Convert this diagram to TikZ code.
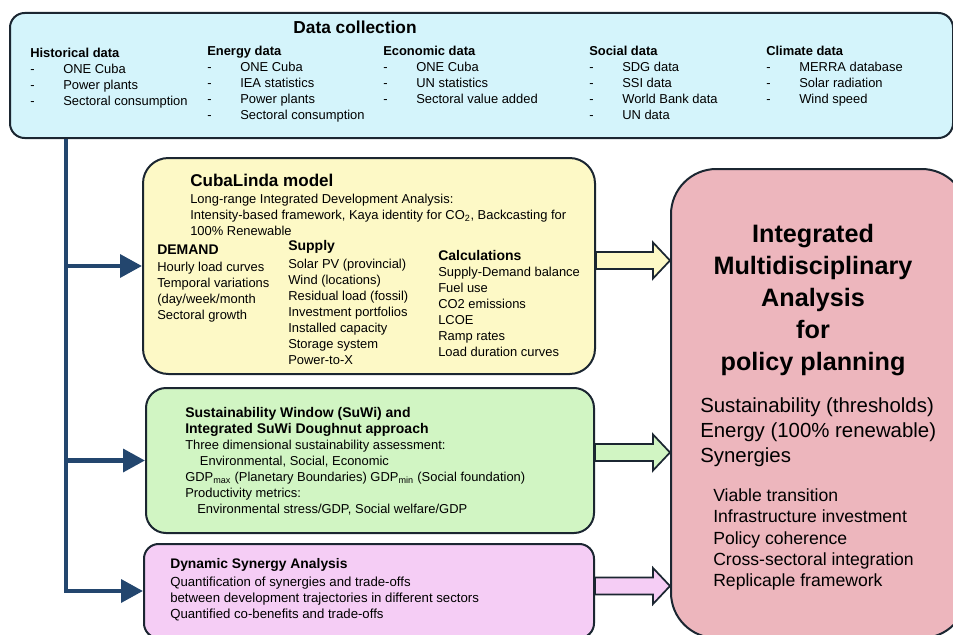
\documentclass[tikz,border=0pt]{standalone}
\usepackage{fontspec}
\setmainfont{Liberation Sans}
\usetikzlibrary{arrows.meta,calc,positioning}
\definecolor{edge}{HTML}{1B2631}
\definecolor{navy}{HTML}{23466E}
\definecolor{datafill}{HTML}{D4F4FB}
\definecolor{cubafill}{HTML}{FDF9C6}
\definecolor{suwifill}{HTML}{D1F5C3}
\definecolor{dynfill}{HTML}{F5CDF5}
\definecolor{resultfill}{HTML}{EDB6BD}
\newcommand\itm{\makebox[24.75pt][l]{-}}
\newcommand\blockarrow[4]{%
\path (#1.east |- 0,#3) coordinate (ba-s) (#2.west |- 0,#3) coordinate (ba-t);
\draw[blockarr, fill=#4] ($(ba-s)+(0,-8.5)$) -- ($(ba-t)+(-17,-8.5)$) -- ($(ba-t)+(-17,-18)$)
  -- (ba-t) -- ($(ba-t)+(-17,18)$) -- ($(ba-t)+(-17,8.5)$) -- ($(ba-s)+(0,8.5)$) -- cycle;}
\begin{document}
\begin{tikzpicture}[x=0.75pt ,y=-0.75pt ,
box/.style ={ rectangle ,draw=edge ,line width=1.5pt ,inner sep=0 ,anchor=north west},
blockarr/.style ={ draw=edge ,line width=1.3pt ,line join=miter},
branch/.style ={ draw=navy ,line width=3.4pt ,-{Triangle[length=16.5pt,width=17pt]}},
txt/.style ={ inner sep=0 ,anchor=north west ,align=left ,font=\fontsize{9.7}{12}\selectfont},
head/.style ={ inner sep=0 ,anchor=west ,font=\fontsize{10.5}{12}\bfseries}]
\useasboundingbox (0,0) rectangle (953,635);
\clip (0,0) rectangle (953,635);
\node[box, fill=datafill, rounded corners=11pt, minimum width=943*0.75pt, minimum height=125*0.75pt] (data) at (9,12) {};
\node[box, fill=cubafill, rounded corners=19pt, minimum width=452*0.75pt, minimum height=216*0.75pt] (cuba) at (142,157) {};
\node[box, fill=suwifill, rounded corners=15pt, minimum width=448*0.75pt, minimum height=145*0.75pt] (suwi) at (145,387) {};
\node[box, fill=dynfill, rounded corners=11pt, minimum width=450*0.75pt, minimum height=94*0.75pt] (dyn) at (143,543) {};
\node[box, fill=resultfill, rounded corners=34pt, minimum width=296*0.75pt, minimum height=469*0.75pt] (result) at (670,168) {};

\node[font=\fontsize{13}{15}\bfseries] (datatitle) at (355,27) {Data collection};
\node[txt] (hist) at (30,48) {\textbf{Historical data}\\\itm ONE Cuba\\\itm Power plants\\\itm Sectoral consumption};
\node[txt] (energy) at (207,46) {\textbf{Energy data}\\\itm ONE Cuba\\\itm IEA statistics\\\itm Power plants\\\itm Sectoral consumption};
\node[txt] (econ) at (383,46) {\textbf{Economic data}\\\itm ONE Cuba\\\itm UN statistics\\\itm Sectoral value added};
\node[txt] (social) at (589,46) {\textbf{Social data}\\\itm SDG data\\\itm SSI data\\\itm World Bank data\\\itm UN data};
\node[txt] (climate) at (766,46) {\textbf{Climate data}\\\itm MERRA database\\\itm Solar radiation\\\itm Wind speed};

\node[head, font=\fontsize{12.8}{15}\bfseries] (cubatitle) at (190,180) {CubaLinda model};
\node[txt, font=\fontsize{9.7}{12}\selectfont] (cubasub) at (190,193.5) {Long-range Integrated Development Analysis:\\Intensity-based framework, Kaya identity for CO\textsubscript{2}, Backcasting for\\100\% Renewable};
\node[head] (demand) at (157,250) {DEMAND};
\node[txt] (demandlist) at (157,262) {Hourly load curves\\Temporal variations\\(day/week/month\\Sectoral growth};
\node[head] (supply) at (288,247) {Supply};
\node[txt] (supplylist) at (288,259) {Solar PV (provincial)\\Wind (locations)\\Residual load (fossil)\\Investment portfolios\\Installed capacity\\Storage system\\Power-to-X};
\node[head] (calc) at (438,255) {Calculations};
\node[txt] (calclist) at (438,267) {Supply-Demand balance\\Fuel use\\CO2 emissions\\LCOE\\Ramp rates\\Load duration curves};

\node[txt, font=\fontsize{10.5}{12}\bfseries] (suwititle) at (185,407) {Sustainability Window (SuWi) and\\Integrated SuWi Doughnut approach};
\node[txt] (suwilist) at (185,440) {Three dimensional sustainability assessment:\\\hspace*{11pt}Environmental, Social, Economic\\GDP\textsubscript{max} (Planetary Boundaries) GDP\textsubscript{min} (Social foundation)\\Productivity metrics:\\\hspace*{9pt}Environmental stress/GDP, Social welfare/GDP};

\node[head, font=\fontsize{10.4}{12}\bfseries] (dyntitle) at (170,565) {Dynamic Synergy Analysis};
\node[txt, font=\fontsize{9.9}{12}\selectfont] (dynlist) at (170,577) {Quantification of synergies and trade-offs\\between development trajectories in different sectors\\Quantified co-benefits and trade-offs};

\node[align=center, inner sep=0, font=\fontsize{18.9}{24}\bfseries] (resulttitle) at (813,300) {Integrated\\Multidisciplinary\\Analysis\\for\\policy planning};
\node[txt, font=\fontsize{15.3}{18.75}\selectfont] (aims) at (700,397.5) {Sustainability (thresholds)\\Energy (100\% renewable)\\Synergies};
\node[txt, font=\fontsize{13.2}{16}\selectfont] (outcomes) at (713,488.5) {Viable transition\\Infrastructure investment\\Policy coherence\\Cross-sectoral integration\\Replicaple framework};

\coordinate (trunk) at (66,0);
\draw[branch] (data.south -| trunk) |- (dyn.west);
\draw[branch] (cuba.west -| trunk) -- (cuba.west);
\draw[branch] (suwi.west -| trunk) -- (suwi.west);

\blockarrow{cuba}{result}{260.5}{cubafill}
\blockarrow{suwi}{result}{452.5}{suwifill}
\blockarrow{dyn}{result}{586}{dynfill}
\end{tikzpicture}
\end{document}
